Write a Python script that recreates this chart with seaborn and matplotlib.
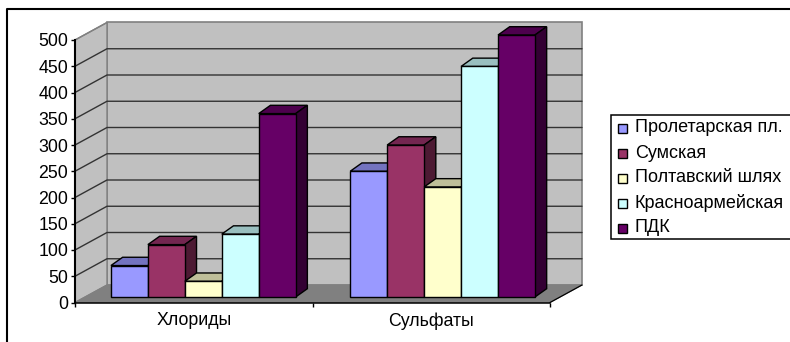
import matplotlib
matplotlib.use("Agg")
import matplotlib.pyplot as plt
from matplotlib.patches import Polygon, Rectangle
import pandas as pd
import seaborn as sns

categories = ["Хлориды", "Сульфаты"]
series_names = ["Пролетарская пл.", "Сумская", "Полтавский шлях", "Красноармейская", "ПДК"]
chlorides = [60, 100, 30, 120, 350]
sulfates = [240, 290, 210, 440, 500]
y_ticks = list(range(0, 501, 50))

front_colors = ["#9999FF", "#993366", "#FFFFCC", "#CCFFFF", "#660066"]
top_colors = ["#7373BF", "#732650", "#BFBF99", "#99BFBF", "#4D004D"]
side_colors = ["#4D4D80", "#4D1A33", "#808066", "#668080", "#330033"]

W, H = 790, 342
sns.set_theme(style="white")
plt.rcParams["font.family"] = ["Liberation Sans", "DejaVu Sans"]
plt.rcParams["font.size"] = 10


def pixel_axes(fig, left, top, right, bottom, **kw):
    return fig.add_axes([left / W, 1 - bottom / H, (right - left) / W, (bottom - top) / H], **kw)


fig = plt.figure(figsize=(W / 100, H / 100), dpi=100, facecolor="white")

# outer chart frame, open along the lower edge of the canvas
frame = pixel_axes(fig, 0, 0, W, H)
frame.set_xlim(0, W)
frame.set_ylim(H, 0)
frame.axis("off")
frame.plot([6.5, 6.5, W], [H, 8.5, 8.5], color="black", lw=1.5, clip_on=False)

# front plane of the box: holds the axis, floor edge and walls
ax = pixel_axes(fig, 75, 40, 550, 302.5)
ax.set_xlim(-0.5, 1.5)
ax.set_ylim(0, 500)
ax.patch.set_alpha(0)
sx = 2 / 475
sy = 500 / 262.5
wall_dx, wall_dy = 32 * sx, 17.5 * sy

x0, x1 = -0.5, 1.5
ax.add_patch(Polygon([(x0 + wall_dx, wall_dy), (x1 + wall_dx, wall_dy),
                      (x1 + wall_dx, 500 + wall_dy), (x0 + wall_dx, 500 + wall_dy)],
                     fc="#C0C0C0", ec="#808080", lw=1.2, clip_on=False, zorder=1))
ax.add_patch(Polygon([(x0, 0), (x0 + wall_dx, wall_dy), (x0 + wall_dx, 500 + wall_dy), (x0, 500)],
                     fc="#C0C0C0", ec="#808080", lw=1.0, clip_on=False, zorder=1))
ax.add_patch(Polygon([(x0, 0), (x1, 0), (x1 + wall_dx, wall_dy), (x0 + wall_dx, wall_dy)],
                     fc="#808080", ec="#808080", lw=0.8, clip_on=False, zorder=1))
for v in y_ticks[1:-1]:
    ax.plot([x0, x0 + wall_dx, x1 + wall_dx], [v, v + wall_dy, v + wall_dy],
            color="#333333", lw=1.0, clip_on=False, zorder=2)
ax.plot([x0, x0 + wall_dx], [500, 500 + wall_dy], color="#808080", lw=1.0, clip_on=False, zorder=2)
ax.plot([x1, x1 + wall_dx], [0, wall_dy], color="black", lw=0.9, clip_on=False, zorder=3)

ax.set_xticks([-0.5, 0.5, 1.5])
ax.set_xticklabels([])
ax.set_xticks([0, 1], minor=True)
ax.set_xticklabels(categories, minor=True, fontsize=12.8, color="black")
ax.tick_params(axis="x", which="major", length=3, width=1, color="black", direction="out", bottom=True)
ax.tick_params(axis="x", which="minor", length=0, pad=7)
ax.set_yticks(y_ticks)
ax.set_yticklabels([str(v) for v in y_ticks], fontsize=12.8, color="black")
ax.tick_params(axis="y", length=3, width=1, color="black", direction="out", left=True, pad=2)
for name, spine in ax.spines.items():
    spine.set_visible(name in ("left", "bottom"))
    spine.set_color("black")
    spine.set_linewidth(1.5 if name == "left" else 1.1)
    spine.set_zorder(3)

# bars stand partway into the box, so their plane is shifted back from the front one
bar_ax = pixel_axes(fig, 83.65, 35, 562.25, 297)
bar_ax.patch.set_alpha(0)
df = pd.DataFrame({
    "category": [c for c in categories for _ in series_names],
    "series": series_names * 2,
    "value": chlorides + sulfates,
})
sns.barplot(data=df, x="category", y="value", hue="series", hue_order=series_names,
            palette=front_colors, saturation=1, width=0.772, gap=0, dodge=True,
            legend=False, ax=bar_ax)
bar_ax.set_xlim(-0.5, 1.5)
bar_ax.set_ylim(0, 500)
bar_ax.axis("off")

depth_x, depth_y = 11.7 * (2 / 478.6), 8.3 * (500 / 262)
# painter's order: left to right, so nearer neighbours cover each bar's side
bars = sorted(
    ((bar, i) for i, container in enumerate(bar_ax.containers) for bar in container),
    key=lambda item: item[0].get_x(),
)
for order, (bar, i) in enumerate(bars):
    x, w, h = bar.get_x(), bar.get_width(), bar.get_height()
    top = Polygon([(x, h), (x + w, h), (x + w + depth_x, h + depth_y), (x + depth_x, h + depth_y)],
                  fc=top_colors[i], ec="black", lw=1.0, clip_on=False, zorder=10 + 2 * order, joinstyle="miter")
    side = Polygon([(x + w, 0), (x + w + depth_x, depth_y), (x + w + depth_x, h + depth_y), (x + w, h)],
                   fc=side_colors[i], ec="black", lw=1.0, clip_on=False, zorder=10 + 2 * order, joinstyle="miter")
    bar_ax.add_patch(top)
    bar_ax.add_patch(side)
    bar.set_edgecolor("black")
    bar.set_linewidth(1.0)
    bar.set_clip_on(False)
    bar.set_zorder(11 + 2 * order)

# legend box with square swatches
legend = pixel_axes(fig, 0, 0, W, H)
legend.set_xlim(0, W)
legend.set_ylim(H, 0)
legend.axis("off")
legend.patch.set_alpha(0)
legend.add_patch(Rectangle((610.5, 114.5), 190, 124, fc="white", ec="black", lw=1.1, clip_on=True))
for k, (name, colour) in enumerate(zip(series_names, front_colors)):
    yc = 128 + k * 25
    legend.add_patch(Rectangle((618, yc - 4.5), 9, 9, fc=colour, ec="black", lw=1.0))
    legend.text(635, yc, name, fontsize=13, va="center", ha="left", color="black")

fig.savefig("out.png", dpi=100)
